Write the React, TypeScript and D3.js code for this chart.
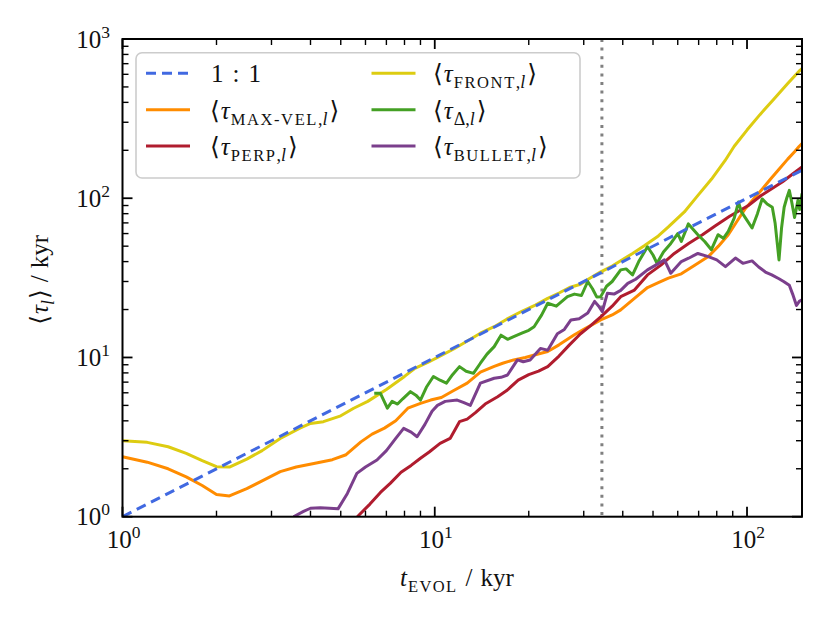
import React from "react";
import * as d3 from "d3";

// ---------- data ----------
const oneT = [1, 150];
const oneV = [1, 150];

const frontT = [1, 1.2, 1.4, 1.6, 1.8, 2.0, 2.2, 2.5, 2.8, 3.2, 3.7, 4.0, 4.4, 5.0, 5.5, 6.1, 7.0, 8.0, 8.6, 9.5, 10.5, 11.5, 13, 14, 15.5, 17, 19, 21, 23, 25, 27, 29.3, 31, 34, 37, 39.4, 43, 47, 52, 56, 63, 69, 77, 85, 91, 100, 110, 122, 135, 147, 150];
const frontV = [3.0, 2.93, 2.75, 2.5, 2.25, 2.06, 2.05, 2.3, 2.6, 3.1, 3.6, 3.85, 3.95, 4.3, 4.8, 5.3, 6.3, 7.6, 8.5, 9.3, 10.3, 11.3, 13.0, 14.2, 15.6, 17.4, 19.5, 21.3, 23.5, 25.4, 27.5, 28.8, 31, 34.5, 37.5, 40.5, 45, 50.5, 58, 66, 82, 102, 132, 172, 212, 268, 335, 420, 525, 630, 650];

const maxVelT = [1, 1.2, 1.4, 1.6, 1.8, 2.0, 2.2, 2.5, 2.8, 3.2, 3.6, 4.1, 4.7, 5.2, 5.8, 6.3, 6.9, 7.5, 8.2, 9.0, 9.7, 10.5, 11.5, 12.7, 14.0, 15.5, 16.5, 17.9, 19.5, 21, 23, 25, 28, 30, 34, 37, 39.4, 43.6, 48, 52, 56, 61.6, 68, 75.2, 81, 87.1, 93, 98.7, 105, 111.8, 119, 126.6, 135, 142, 147, 150];
const maxVelV = [2.38, 2.2, 2.0, 1.78, 1.57, 1.38, 1.35, 1.5, 1.68, 1.92, 2.05, 2.16, 2.28, 2.45, 2.95, 3.3, 3.6, 4.0, 4.8, 5.15, 5.4, 5.6, 6.2, 6.9, 8.1, 8.8, 9.2, 9.65, 10.0, 10.4, 10.9, 12.0, 13.9, 15.0, 17.2, 18.5, 19.9, 23.5, 27.5, 29.5, 31.5, 33.5, 38, 43, 50, 59, 72, 86, 99, 114, 132, 152, 176, 196, 212, 220];

const perpT = [5.65, 6.2, 6.7, 7.2, 7.8, 8.4, 9.0, 9.6, 10.4, 11.2, 12.0, 12.7, 13.5, 14.5, 15.9, 17, 18.5, 20, 21.5, 23, 25, 27, 29.3, 31.5, 34, 37, 39.4, 43.6, 48, 53, 58.5, 65, 72, 79, 88, 101, 111, 130, 140, 150];
const perpV = [1.0, 1.2, 1.42, 1.62, 1.9, 2.1, 2.33, 2.55, 2.89, 3.1, 3.95, 4.1, 4.5, 5.1, 5.67, 6.2, 7.2, 7.8, 8.2, 8.76, 10.2, 12.0, 14.1, 15.8, 18.0, 21.0, 24.1, 26.5, 33, 38, 45, 52, 59, 67, 77, 90, 104, 127, 142, 157];

const deltaT = [6.4, 6.7, 7.05, 7.3, 7.6, 7.9, 8.36, 8.7, 9.0, 9.4, 9.9, 10.4, 10.9, 11.4, 12.0, 12.6, 13.3, 14.0, 14.7, 15.5, 16.3, 17.1, 17.9, 19, 20, 20.8, 22, 23, 24.5, 26.6, 28, 29.5, 30.9, 32, 33, 34, 35.5, 37, 39.4, 41, 43, 45, 48, 50, 51.5, 54, 57, 60, 61.6, 64.9, 69.6, 73.2, 76.9, 80.8, 84, 87.1, 91, 93.9, 96, 98.7, 103.8, 108, 111.8, 116, 120.5, 123, 126.6, 129, 131.5, 134, 136.6, 139, 142, 145.6, 147.5, 150];
const deltaV = [5.96, 5.96, 4.8, 5.3, 5.1, 5.5, 6.1, 5.8, 5.4, 6.5, 7.6, 7.2, 6.9, 7.8, 8.76, 8.2, 7.95, 9.2, 10.5, 11.7, 13.8, 13.0, 13.5, 14.2, 14.8, 15.6, 18.5, 21.9, 21.0, 24.1, 25.0, 24.5, 30, 27, 24, 24.1, 28, 30, 35.5, 36, 33, 40, 49.6, 44, 39, 46, 52, 60, 53.5, 69, 59, 53.5, 47.5, 59, 56, 62, 75, 94.6, 82, 75.6, 65, 80, 99, 92, 87.8, 70, 41, 65, 87.8, 100, 112, 95, 75.6, 97, 85, 107];

const bulletT = [3.53, 3.8, 4.0, 4.3, 4.6, 4.9, 5.25, 5.63, 6.0, 6.53, 7.0, 7.5, 7.95, 8.4, 8.78, 9.3, 9.8, 10.2, 10.8, 11.8, 12.4, 13.0, 14.0, 15.5, 16.3, 17.1, 18.4, 19.2, 20.2, 21.8, 23, 24.7, 26, 27.3, 29, 30.9, 32.5, 33.5, 34.4, 35.7, 37.5, 39.4, 41.5, 44, 48, 51, 54.4, 57, 61.6, 65, 69.6, 75.2, 80, 85.3, 91.8, 97, 103.8, 109, 114.5, 120, 126.6, 131, 136.6, 140, 144, 147, 150];
const bulletV = [1.0, 1.08, 1.13, 1.14, 1.13, 1.12, 1.4, 1.87, 2.05, 2.27, 2.6, 3.1, 3.59, 3.4, 3.18, 3.8, 4.6, 5.0, 5.3, 5.4, 5.2, 5.0, 6.9, 7.4, 7.5, 7.76, 9.65, 9.4, 9.65, 11.4, 11.1, 14.1, 15.0, 17.2, 17.5, 19.0, 22.5, 21.0, 19.4, 25.3, 25.0, 26.4, 29.2, 31, 35.5, 38, 41, 33.8, 40, 42, 45, 43, 41, 37.2, 42.1, 39, 40.4, 37, 34.4, 33, 31.2, 30, 28.4, 25, 21.2, 22.5, 23];

const vlineT = 34.3;

const xTicks = [1, 10, 100];
const yTicks = [1, 10, 100, 1000];
const tickExp = ["0", "1", "2", "3"];

// ---------- layout ----------
const W = 831;
const H = 623;
const L = 122.5, R = 802, T = 39, B = 516.7;
const FONT = "'Liberation Serif', 'DejaVu Serif', serif";

const x = d3.scaleLog().domain([1, 150]).range([L, R]);
const y = d3.scaleLog().domain([1, 1000]).range([B, T]);

const COLORS = {
  one: "#4169E1",
  maxVel: "#FF8C00",
  perp: "#B01C2E",
  front: "#DDCC11",
  delta: "#44A024",
  bullet: "#7B3F8C",
};

function pathOf(ts: number[], vs: number[]) {
  const pts = ts.map((t, i) => [t, vs[i]] as [number, number]);
  return d3.line<[number, number]>().x((d) => x(d[0])).y((d) => y(d[1]))(pts) || "";
}

function minorTicks(maxExp: number, maxVal: number) {
  const out: number[] = [];
  for (let e = 0; e < maxExp; e++) {
    for (let m = 2; m <= 9; m++) {
      const v = m * Math.pow(10, e);
      if (v < maxVal) out.push(v);
    }
  }
  return out;
}

const MAIN = 25;
const SUBCAPS = 16.5;
const SUBL = 18;
const SUB_DY = 6;

function TauLabel({ sub, caps = true }: { sub: string; caps?: boolean }) {
  return (
    <>
      <tspan>⟨</tspan>
      <tspan fontStyle="italic" dx={1}>τ</tspan>
      <tspan fontSize={caps ? SUBCAPS : SUBL} dy={SUB_DY} dx={1} letterSpacing={caps ? 1.6 : 0}>{sub}</tspan>
      <tspan fontSize={SUBL}>,</tspan>
      <tspan fontSize={SUBL} fontStyle="italic">l</tspan>
      <tspan dy={-SUB_DY} dx={2}>⟩</tspan>
    </>
  );
}

export default function App() {
  const xMinor = minorTicks(3, 150);
  const yMinor = minorTicks(3, 1000);

  const series = [
    { t: maxVelT, v: maxVelV, c: COLORS.maxVel },
    { t: perpT, v: perpV, c: COLORS.perp },
    { t: frontT, v: frontV, c: COLORS.front },
    { t: deltaT, v: deltaV, c: COLORS.delta },
    { t: bulletT, v: bulletV, c: COLORS.bullet },
  ];

  const legendRows = [73.3, 109.7, 146];
  const c1 = 146, c2 = 371.5, lineLen = 44;
  const LW = 3;
  const textDy = 9;

  return (
    <svg
      width={W}
      height={H}
      viewBox={`0 0 ${W} ${H}`}
      style={{ position: "absolute", left: 0, top: 0, background: "#fff" }}
      fontFamily={FONT}
    >
      <defs>
        <clipPath id="plotclip">
          <rect x={L} y={T} width={R - L} height={B - T} />
        </clipPath>
      </defs>

      {/* data */}
      <g clipPath="url(#plotclip)">
        <line
          x1={x(vlineT)}
          x2={x(vlineT)}
          y1={T}
          y2={B}
          stroke="#808080"
          strokeWidth={3}
          strokeDasharray="3,5.6"
        />
        {series.map((s, i) => (
          <path key={i} d={pathOf(s.t, s.v)} fill="none" stroke={s.c} strokeWidth={LW} strokeLinejoin="round" />
        ))}
        <path d={pathOf(oneT, oneV)} fill="none" stroke={COLORS.one} strokeWidth={LW} strokeDasharray="10,6" />
      </g>

      {/* ticks */}
      <g stroke="#000">
        {xTicks.map((t) => (
          <g key={"xt" + t}>
            <line x1={x(t)} x2={x(t)} y1={B} y2={B - 10} strokeWidth={1.8} />
            <line x1={x(t)} x2={x(t)} y1={T} y2={T + 10} strokeWidth={1.8} />
          </g>
        ))}
        {xMinor.map((t) => (
          <g key={"xm" + t}>
            <line x1={x(t)} x2={x(t)} y1={B} y2={B - 6} strokeWidth={1.4} />
            <line x1={x(t)} x2={x(t)} y1={T} y2={T + 6} strokeWidth={1.4} />
          </g>
        ))}
        {yTicks.map((v) => (
          <g key={"yt" + v}>
            <line x1={L} x2={L + 10} y1={y(v)} y2={y(v)} strokeWidth={1.8} />
            <line x1={R} x2={R - 10} y1={y(v)} y2={y(v)} strokeWidth={1.8} />
          </g>
        ))}
        {yMinor.map((v) => (
          <g key={"ym" + v}>
            <line x1={L} x2={L + 6} y1={y(v)} y2={y(v)} strokeWidth={1.4} />
            <line x1={R} x2={R - 6} y1={y(v)} y2={y(v)} strokeWidth={1.4} />
          </g>
        ))}
      </g>

      {/* frame */}
      <rect x={L} y={T} width={R - L} height={B - T} fill="none" stroke="#000" strokeWidth={2} />

      {/* tick labels */}
      <g fontSize={MAIN} fill="#111">
        {xTicks.map((t, i) => (
          <text key={"xl" + t} x={x(t) + 1} y={548} textAnchor="middle">
            10<tspan fontSize={17.5} dy={-10}>{tickExp[i]}</tspan>
          </text>
        ))}
        {yTicks.map((v, i) => (
          <text key={"yl" + v} x={110} y={y(v) + 8.5} textAnchor="end">
            10<tspan fontSize={17.5} dy={-10}>{tickExp[i]}</tspan>
          </text>
        ))}
      </g>

      {/* axis labels */}
      <text x={400} y={586} fontSize={MAIN} fill="#111">
        <tspan fontStyle="italic">t</tspan>
        <tspan fontSize={SUBCAPS} dy={SUB_DY} dx={1} letterSpacing={1.4}>EVOL</tspan>
        <tspan dy={-SUB_DY} dx={8}>/</tspan>
        <tspan dx={8}>kyr</tspan>
      </text>
      <text
        transform={`translate(48,${(T + B) / 2 + 2}) rotate(-90)`}
        textAnchor="middle"
        fontSize={MAIN}
        fill="#111"
      >
        <tspan>⟨</tspan>
        <tspan fontStyle="italic" dx={1}>τ</tspan>
        <tspan fontSize={SUBL} fontStyle="italic" dy={SUB_DY}>l</tspan>
        <tspan dy={-SUB_DY} dx={1}>⟩</tspan>
        <tspan dx={7}>/</tspan>
        <tspan dx={7}>kyr</tspan>
      </text>

      {/* legend */}
      <rect x={136} y={52.7} width={444} height={125.3} rx={6} ry={6} fill="#fff" fillOpacity={0.85} stroke="#cccccc" strokeWidth={1.6} />
      <g fontSize={MAIN} fill="#111">
        <line x1={c1} x2={c1 + lineLen} y1={legendRows[0]} y2={legendRows[0]} stroke={COLORS.one} strokeWidth={LW} strokeDasharray="10,6" />
        <text x={211} y={legendRows[0] + textDy}>1<tspan dx={9}>:</tspan><tspan dx={9}>1</tspan></text>

        <line x1={c1} x2={c1 + lineLen} y1={legendRows[1]} y2={legendRows[1]} stroke={COLORS.maxVel} strokeWidth={LW} />
        <text x={210} y={legendRows[1] + textDy}><TauLabel sub="MAX-VEL" /></text>

        <line x1={c1} x2={c1 + lineLen} y1={legendRows[2]} y2={legendRows[2]} stroke={COLORS.perp} strokeWidth={LW} />
        <text x={210} y={legendRows[2] + textDy}><TauLabel sub="PERP" /></text>

        <line x1={c2} x2={c2 + lineLen} y1={legendRows[0]} y2={legendRows[0]} stroke={COLORS.front} strokeWidth={LW} />
        <text x={433} y={legendRows[0] + textDy}><TauLabel sub="FRONT" /></text>

        <line x1={c2} x2={c2 + lineLen} y1={legendRows[1]} y2={legendRows[1]} stroke={COLORS.delta} strokeWidth={LW} />
        <text x={433} y={legendRows[1] + textDy}><TauLabel sub="Δ" caps={false} /></text>

        <line x1={c2} x2={c2 + lineLen} y1={legendRows[2]} y2={legendRows[2]} stroke={COLORS.bullet} strokeWidth={LW} />
        <text x={433} y={legendRows[2] + textDy}><TauLabel sub="BULLET" /></text>
      </g>
    </svg>
  );
}
